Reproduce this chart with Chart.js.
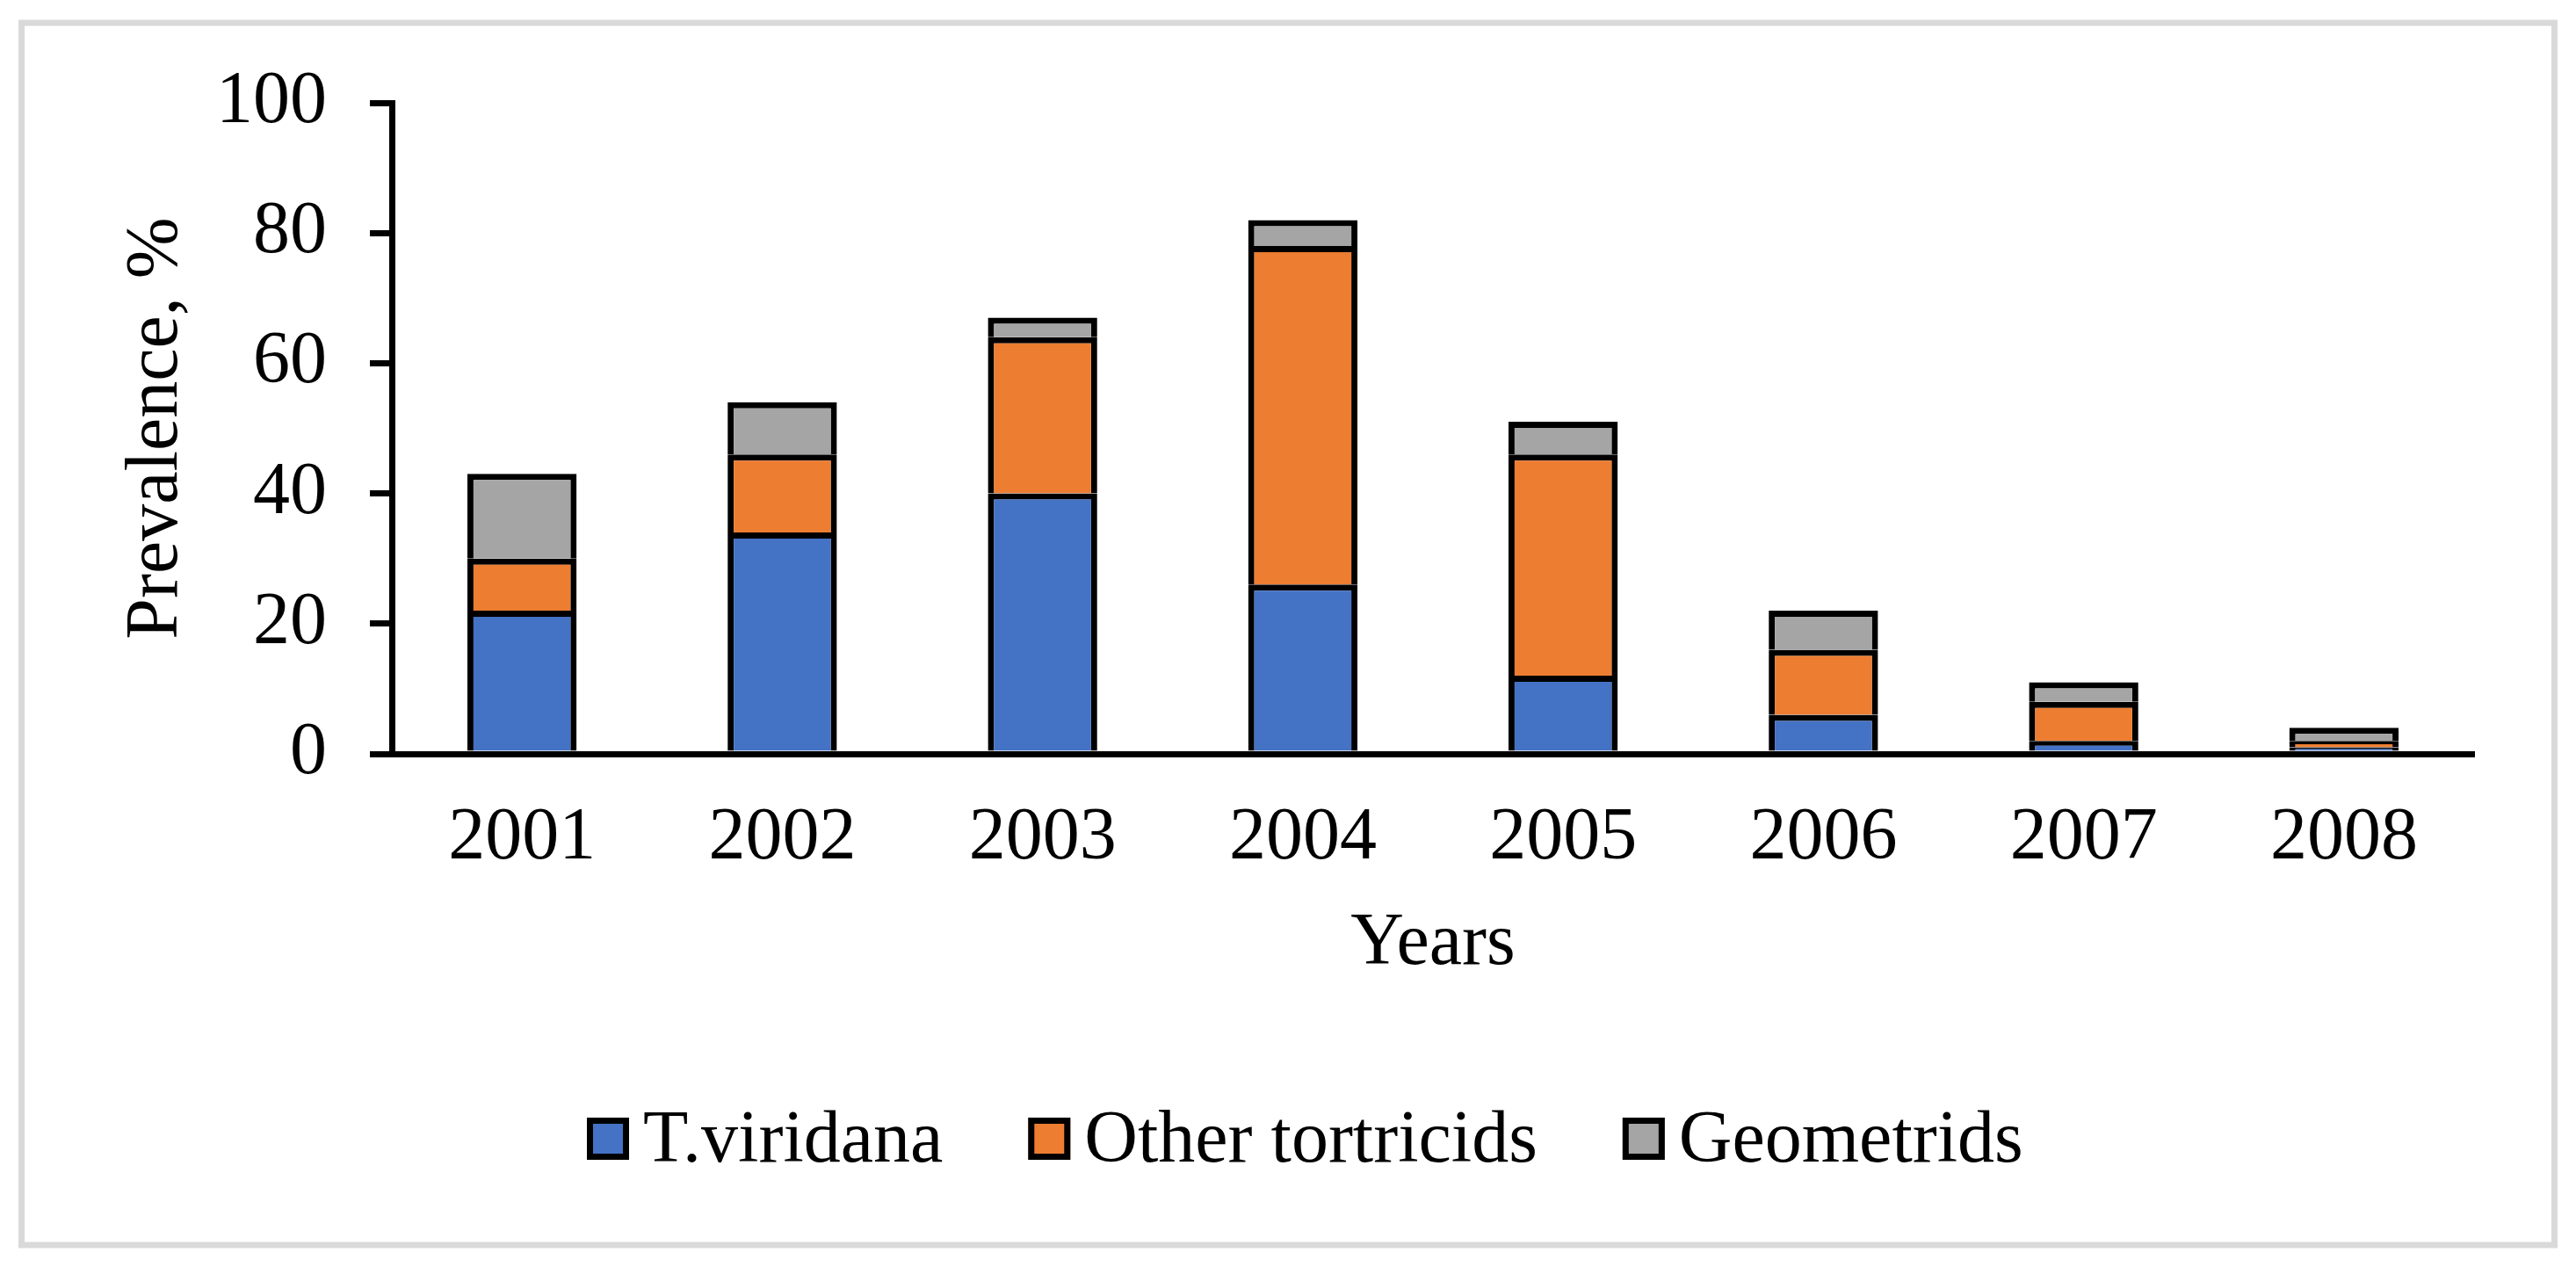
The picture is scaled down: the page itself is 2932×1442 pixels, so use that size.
<!DOCTYPE html>
<html>
<head>
<meta charset="utf-8">
<script src="https://cdn.jsdelivr.net/npm/chart.js@4.4.1/dist/chart.umd.min.js"></script>
<style>
  html, body { margin: 0; padding: 0; background: #fff; }
  #wrap { width: 2932px; height: 1442px; position: relative; }
</style>
</head>
<body>
<div id="wrap"><canvas id="prevalence"></canvas></div>
<script>
const years = ['2001', '2002', '2003', '2004', '2005', '2006', '2007', '2008']
const tViridana = [22, 34, 40, 26, 12, 6, 2, 1]
const otherTortricids = [8, 12, 24, 52, 34, 10, 6, 1]
const geometrids = [13, 8, 3, 4, 5, 6, 3, 2]
const seriesNames = ['T.viridana', 'Other tortricids', 'Geometrids']
const yMin = 0
const yMax = 100
const yStep = 20

const serif = '"Liberation Serif", "Times New Roman", serif'
const colors = ['#4472C4', '#ED7D31', '#A5A5A5']

// light grey frame round the whole figure
const frame = {
    id: 'frame',
    beforeDraw(chart) {
        const ctx = chart.ctx
        ctx.save()
        ctx.strokeStyle = '#d9d9d9'
        ctx.lineWidth = 7
        ctx.strokeRect(24.5, 26, 2883, 1391)
        ctx.restore()
    }
}

// excel style legend: small bordered box, tight gap to the text
const boxLegend = {
    id: 'boxLegend',
    afterDraw(chart, args, opts) {
        const ctx = chart.ctx
        ctx.save()
        ctx.font = opts.size + 'px ' + serif
        ctx.textAlign = 'left'
        ctx.textBaseline = 'alphabetic'
        let x = opts.left
        chart.data.datasets.forEach(ds => {
            ctx.fillStyle = ds.backgroundColor
            ctx.fillRect(x, opts.top, opts.box, opts.box)
            ctx.strokeStyle = '#000'
            ctx.lineWidth = 7
            ctx.strokeRect(x + 3.5, opts.top + 3.5, opts.box - 7, opts.box - 7)
            x += opts.box + opts.gap
            ctx.fillStyle = '#000'
            ctx.fillText(ds.label, x, opts.baseline)
            x += ctx.measureText(ds.label).width + opts.spacing
        })
        ctx.restore()
    }
}

const data = {
    labels: years,
    datasets: [tViridana, otherTortricids, geometrids].map((values, i) => ({
        label: seriesNames[i],
        data: values,
        backgroundColor: colors[i],
        borderColor: '#000',
        borderWidth: 7,
        barPercentage: 0.42,
        categoryPercentage: 1
    }))
}

new Chart(document.getElementById('prevalence'), {
    type: 'bar',
    data: data,
    plugins: [frame, boxLegend],
    options: {
        animation: false,
        responsive: true,
        maintainAspectRatio: false,
        devicePixelRatio: 1,
        layout: {padding: {top: 117, right: 116, left: 0, bottom: 0}},
        plugins: {
            legend: {display: false},
            tooltip: {enabled: false},
            boxLegend: {left: 668, top: 1272, box: 48, gap: 16, spacing: 97, baseline: 1322, size: 84}
        },
        scales: {
            x: {
                stacked: true,
                grid: {display: false, drawTicks: false},
                border: {display: true, color: '#000', width: 7},
                ticks: {color: '#000', padding: 47, font: {family: serif, size: 84}},
                title: {display: true, text: 'Years', color: '#000', padding: {top: 0, bottom: 317}, font: {family: serif, size: 84}},
                afterFit(scale) { scale.height = 584 }
            },
            y: {
                stacked: true,
                min: yMin,
                max: yMax,
                grid: {drawOnChartArea: false, drawTicks: true, tickLength: 25, color: '#000', lineWidth: 7},
                border: {display: true, color: '#000', width: 7},
                ticks: {stepSize: yStep, color: '#000', padding: 49, font: {family: serif, size: 84}},
                title: {display: true, text: 'Prevalence, %', color: '#000', padding: {top: 129, bottom: 0}, font: {family: serif, size: 84}},
                afterFit(scale) { scale.width = 446 }
            }
        }
    }
})
</script>
</body>
</html>
